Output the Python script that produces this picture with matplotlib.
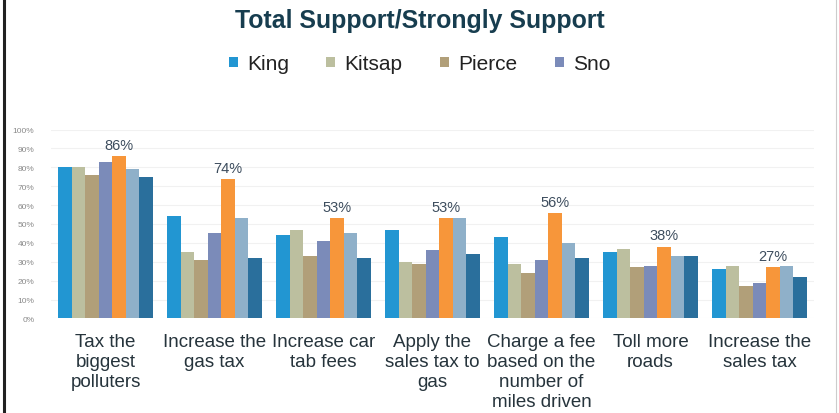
import matplotlib
matplotlib.use("Agg")
import matplotlib.pyplot as plt
from matplotlib.lines import Line2D
from matplotlib.patches import Patch
import numpy as np

plt.rcParams['font.family'] = ['Liberation Sans', 'DejaVu Sans']

categories = ["Tax the\nbiggest\npolluters", "Increase the\ngas tax", "Increase car\ntab fees",
              "Apply the\nsales tax to\ngas", "Charge a fee\nbased on the\nnumber of\nmiles driven",
              "Toll more\nroads", "Increase the\nsales tax"]

king =    [80, 54, 44, 47, 43, 35, 26]
kitsap =  [80, 35, 47, 30, 29, 37, 28]
pierce =  [76, 31, 33, 29, 24, 27, 17]
sno =     [83, 45, 41, 36, 31, 28, 19]
series5 = [86, 74, 53, 53, 56, 38, 27]
series6 = [79, 53, 45, 53, 40, 33, 28]
series7 = [75, 32, 32, 34, 32, 33, 22]

series = [("King", king), ("Kitsap", kitsap), ("Pierce", pierce), ("Sno", sno),
          ("_s5", series5), ("_s6", series6), ("_s7", series7)]
colors = ["#2296d2", "#bcbf9f", "#b19f79", "#7b8bb9", "#f7963a", "#8fb0c9", "#2a6f9c"]

fig = plt.figure(figsize=(8.39, 4.14), dpi=100)
fig.patch.set_facecolor("white")
ax = fig.add_axes([51/839, 1 - 319.4/414, (814-51)/839, 188.8/414])

n = len(series)
w = 0.1245
x = np.arange(len(categories))
for j, (name, vals) in enumerate(series):
    ax.bar(x + (j - (n-1)/2) * w, vals, width=w, color=colors[j], label=name, linewidth=0, zorder=2)

# data labels on the orange series
for i, v in enumerate(series5):
    ax.annotate(f"{v}%", (x[i] + (4 - (n-1)/2) * w, v), xytext=(0, 3), textcoords="offset points",
                ha="center", va="bottom", fontsize=10.5, color="#3d4d5e")

ax.set_xlim(-0.5, len(categories) - 0.5)
ax.set_ylim(0, 100)
ax.set_yticks(np.arange(0, 101, 10))
ax.set_yticklabels([f"{t}%" for t in range(0, 101, 10)], fontsize=6, color="#8a8a8a")
ax.yaxis.grid(True, color="#f1f1f1", linewidth=0.8, zorder=0)
ax.set_axisbelow(True)
ax.tick_params(axis="y", length=0, pad=12)
ax.set_xticks(x)
ax.set_xticklabels(categories, fontsize=13.5, color="#26343c", linespacing=1.24, va="top")
ax.tick_params(axis="x", length=0, pad=10.5)
for s in ax.spines.values():
    s.set_visible(False)

fig.text(0.5, 1 - 21/414, "Total Support/Strongly Support", ha="center", va="center",
         fontsize=17.9, fontweight="bold", color="#173d4f")

handles = [Patch(facecolor=colors[k], edgecolor="none") for k in range(4)]
fig.legend(handles, [series[k][0] for k in range(4)], loc="center", bbox_to_anchor=(0.5, 1 - 65/414),
           ncol=4, frameon=False, fontsize=15, handlelength=0.42, handleheight=0.42,
           handletextpad=0.45, columnspacing=1.8, labelcolor="#222222")

# frame lines of the original slide
fig.add_artist(Line2D([4/839, 4/839], [0, 1], color="#222222", linewidth=2.2))
fig.add_artist(Line2D([836/839, 836/839], [0, 1], color="#cccccc", linewidth=0.8))

fig.savefig("out.png", dpi=100, facecolor="white")
